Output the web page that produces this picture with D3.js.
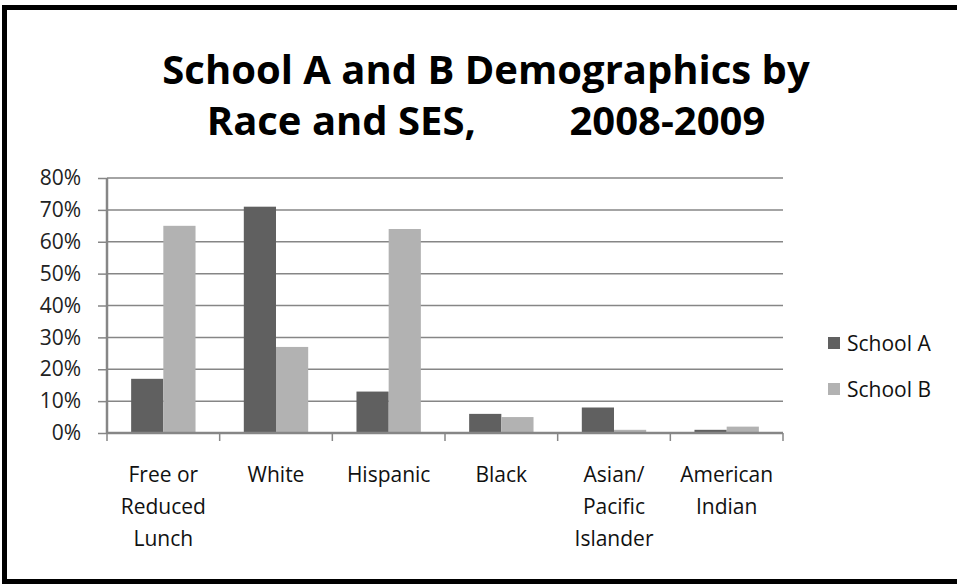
<!DOCTYPE html>
<html>
<head>
<meta charset="utf-8">
<script src="https://cdn.jsdelivr.net/npm/d3@7"></script>
<style>
  html, body { margin: 0; padding: 0; background: #fff; }
  svg { display: block; }
</style>
</head>
<body>
<svg id="chart" width="957" height="584"></svg>
<script>
// Share of enrolled students, 2008-2009
const categories = [
  ["Free or", "Reduced", "Lunch"],
  ["White"],
  ["Hispanic"],
  ["Black"],
  ["Asian/", "Pacific", "Islander"],
  ["American", "Indian"]
];
const seriesNames = ["School A", "School B"];
const schoolA = [17, 71, 13, 6, 8, 1];
const schoolB = [65, 27, 64, 5, 1, 2];
const yTicks = [0, 10, 20, 30, 40, 50, 60, 70, 80];
const titleLines = ["School A and B Demographics by", "Race and SES,\u00a0\u00a0\u00a0\u00a0\u00a0\u00a0\u00a0\u00a0 2008-2009"];

const colors = ["#606060", "#b2b2b2"];
const gridColor = "#868686";
const font = "'Open Sans', 'Noto Sans', sans-serif";

const svg = d3.select("#chart");

// outer frame
svg.append("rect")
  .attr("x", 4.5).attr("y", 7.5)
  .attr("width", 960).attr("height", 574)
  .attr("fill", "none").attr("stroke", "#000").attr("stroke-width", 5);

// title
svg.append("g").selectAll("text")
  .data(titleLines)
  .join("text")
  .attr("x", 486)
  .attr("y", (d, i) => 84 + i * 51)
  .attr("text-anchor", "middle")
  .attr("font-family", font)
  .attr("font-weight", 700)
  .attr("font-size", 40)
  .attr("fill", "#000")
  .style("white-space", "pre")
  .text(d => d);

const plot = { left: 107, right: 783, top: 178, bottom: 433 };

const x = d3.scaleBand()
  .domain(d3.range(categories.length))
  .range([plot.left, plot.right])
  .padding(0);

const xs = d3.scaleBand()
  .domain(seriesNames)
  .range([0, x.bandwidth()])
  .paddingInner(0)
  .paddingOuter(0.75);

const y = d3.scaleLinear()
  .domain([0, 80])
  .range([plot.bottom, plot.top]);

// horizontal gridlines
svg.append("g")
  .selectAll("line")
  .data(yTicks.filter(t => t > 0))
  .join("line")
  .attr("x1", plot.left).attr("x2", plot.right)
  .attr("y1", d => y(d)).attr("y2", d => y(d))
  .attr("stroke", gridColor).attr("stroke-width", 1.5);

// bars
const data = categories.map((c, i) => ({ i, values: [schoolA[i], schoolB[i]] }));
const groups = svg.append("g")
  .selectAll("g")
  .data(data)
  .join("g")
  .attr("transform", d => `translate(${x(d.i)},0)`);

groups.selectAll("rect")
  .data(d => d.values.map((v, k) => ({ v, k })))
  .join("rect")
  .attr("x", d => xs(seriesNames[d.k]))
  .attr("width", xs.bandwidth())
  .attr("y", d => y(d.v))
  .attr("height", d => y(0) - y(d.v))
  .attr("fill", d => colors[d.k]);

// y axis
const yAxis = svg.append("g")
  .attr("transform", `translate(${plot.left},0)`)
  .call(d3.axisLeft(y).tickValues(yTicks).tickSize(9).tickPadding(17)
    .tickFormat(d => d + "%"));
yAxis.select(".domain").attr("stroke", gridColor).attr("stroke-width", 2.5)
  .attr("d", `M0,${plot.top}V${plot.bottom}`);
yAxis.selectAll(".tick line").attr("stroke", gridColor).attr("stroke-width", 1.5);
yAxis.selectAll(".tick text")
  .attr("font-family", font).attr("font-size", 21).attr("fill", "#222");

// x axis baseline with category boundary ticks
const bounds = d3.range(categories.length + 1).map(i => plot.left + i * x.step());
svg.append("line")
  .attr("x1", plot.left).attr("x2", plot.right)
  .attr("y1", plot.bottom).attr("y2", plot.bottom)
  .attr("stroke", gridColor).attr("stroke-width", 2.5);
svg.append("g").selectAll("line")
  .data(bounds)
  .join("line")
  .attr("x1", d => d).attr("x2", d => d)
  .attr("y1", plot.bottom).attr("y2", plot.bottom + 8)
  .attr("stroke", gridColor).attr("stroke-width", 1.5);

// category labels
const labels = svg.append("g")
  .selectAll("text")
  .data(data)
  .join("text")
  .attr("text-anchor", "middle")
  .attr("font-family", font)
  .attr("font-size", 21)
  .attr("fill", "#111");
labels.selectAll("tspan")
  .data(d => categories[d.i].map(line => ({ line, cx: x(d.i) + x.bandwidth() / 2 })))
  .join("tspan")
  .attr("x", d => d.cx)
  .attr("y", (d, j) => 482 + j * 32)
  .text(d => d.line);

// legend
const legend = svg.append("g")
  .selectAll("g")
  .data(seriesNames)
  .join("g")
  .attr("transform", (d, i) => `translate(828,${343 + i * 46})`);
legend.append("rect")
  .attr("x", 0).attr("y", -6)
  .attr("width", 12).attr("height", 12)
  .attr("fill", (d, i) => colors[i]);
legend.append("text")
  .attr("x", 19).attr("y", 7.5)
  .attr("font-family", font).attr("font-size", 21).attr("fill", "#111")
  .text(d => d);
</script>
</body>
</html>
